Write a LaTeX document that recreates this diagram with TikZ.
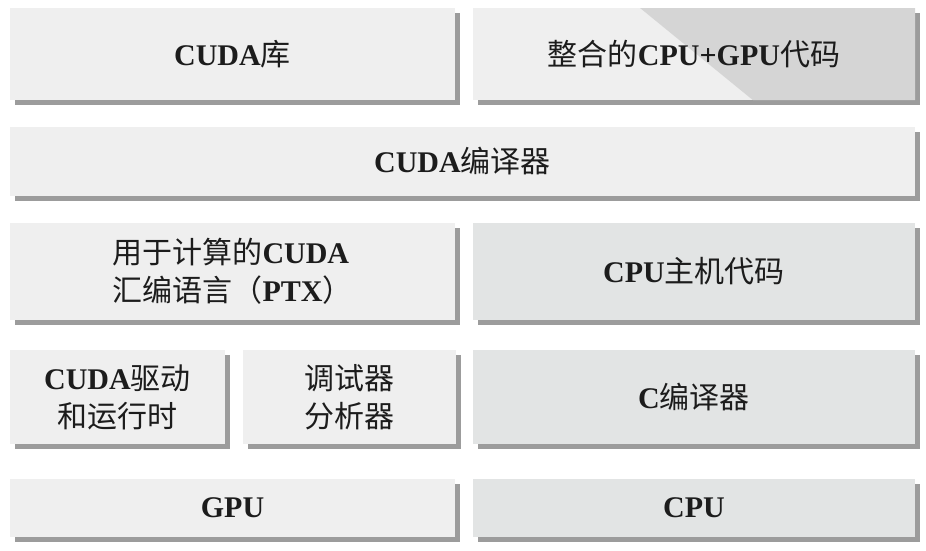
\documentclass[tikz,border=0pt]{standalone}
\usepackage{fontspec}
\setmainfont{Liberation Serif}
\newfontfamily\cjk{Noto Sans CJK SC}
\newcommand{\zh}[1]{{\cjk\mdseries #1}}
\usetikzlibrary{shadows,calc}
\definecolor{leftgray}{HTML}{EFEFEF}
\definecolor{rightgray}{HTML}{E2E4E4}
\definecolor{darkgray}{HTML}{D5D5D5}
\definecolor{shadowgray}{HTML}{9C9C9C}
\definecolor{textblack}{HTML}{1C1C1C}

\begin{document}
\begin{tikzpicture}[x=1pt,y=-1pt]

\tikzset{
box/.style={rectangle,inner sep=2pt,fill=leftgray,text=textblack,align=center,font=\fontsize{30}{38}\selectfont\bfseries,general shadow={fill=shadowgray,shadow xshift=5pt,shadow yshift=-5pt}},
hostbox/.style={box,fill=rightgray}
}

\useasboundingbox (0,0) rectangle (926,550);

\node[box,minimum width=445pt,minimum height=92pt] (cuda-library) at (232.5,54) {CUDA\zh{库}};
\node[box,minimum width=442pt,minimum height=92pt,path picture={
  \fill[darkgray] ($(path picture bounding box.north west)!0.378!(path picture bounding box.north east)$)
    -- (path picture bounding box.north east) -- (path picture bounding box.south east)
    -- ($(path picture bounding box.south west)!0.633!(path picture bounding box.south east)$) -- cycle;
}] (integrated-code) at (694,54) {\zh{整合的}CPU+GPU\zh{代码}};

\node[box,minimum width=905pt,minimum height=69pt] (cuda-compiler) at (462.5,161.5) {CUDA\zh{编译器}};

\node[box,align=left,minimum width=445pt,minimum height=97pt] (ptx) at (232.5,271.5) {\zh{用于计算的}CUDA\\\zh{汇编语言（}PTX\zh{）}};
\node[hostbox,minimum width=442pt,minimum height=97pt] (cpu-host-code) at (694,271.5) {CPU\zh{主机代码}};

\node[box,minimum width=215pt,minimum height=94pt] (cuda-driver) at (117.5,397) {CUDA\zh{驱动}\\\zh{和运行时}};
\node[box,minimum width=213pt,minimum height=94pt] (debugger) at (349.5,397) {\zh{调试器}\\\zh{分析器}};
\node[hostbox,minimum width=442pt,minimum height=94pt] (c-compiler) at (694,397) {C\zh{编译器}};

\node[box,minimum width=445pt,minimum height=58pt] (gpu) at (232.5,508) {GPU};
\node[hostbox,minimum width=442pt,minimum height=58pt] (cpu) at (694,508) {CPU};

\end{tikzpicture}
\end{document}
